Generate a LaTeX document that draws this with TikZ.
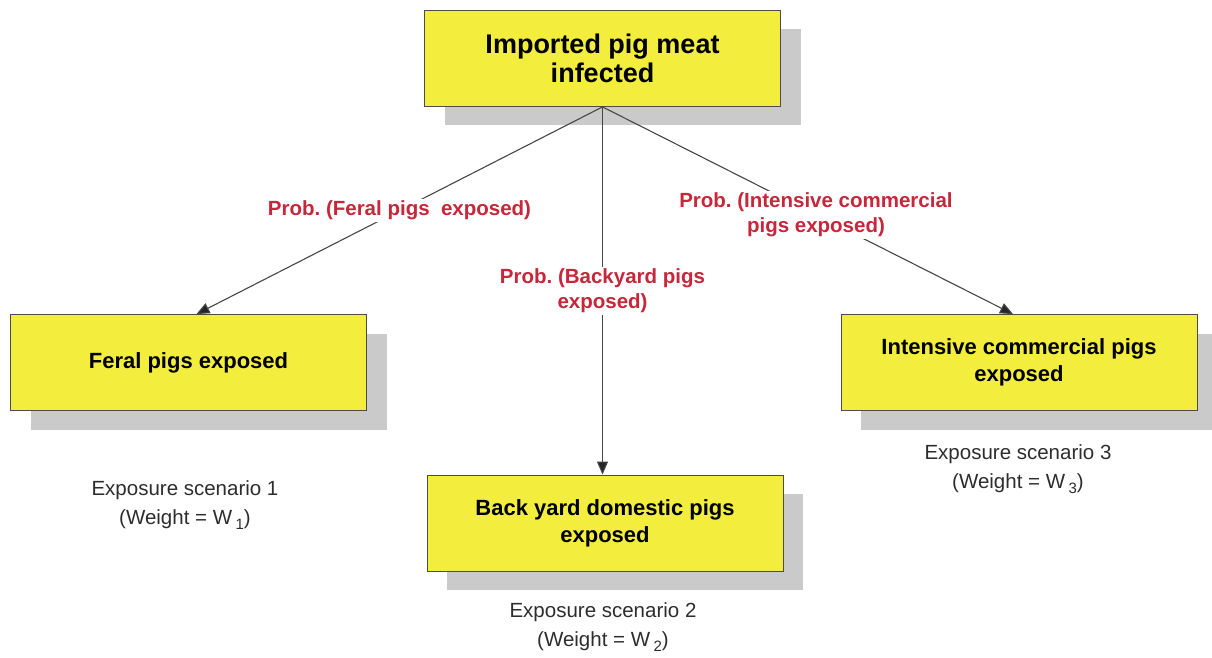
\documentclass[tikz,border=0pt]{standalone}
\usepackage{fontspec}
\setmainfont{Liberation Sans}
\usetikzlibrary{shadows,arrows.meta}
\definecolor{boxyellow}{RGB}{243,238,62}
\definecolor{probred}{RGB}{200,38,58}
\definecolor{shadowgray}{RGB}{202,202,202}
\definecolor{linegray}{RGB}{70,70,70}
\definecolor{textgray}{RGB}{45,45,45}
% lowered weight index
\newcommand{\wsub}[1]{\,\raisebox{-0.45ex}{\fontsize{15}{15}\selectfont #1}}
\begin{document}
\begin{tikzpicture}[x=1pt,y=-1pt,
  stagebox/.style={draw=black!70, line width=0.8pt, fill=boxyellow,
    minimum width=356pt, minimum height=96pt, inner sep=0pt, align=center,
    font=\bfseries\fontsize{22}{27}\selectfont,
    drop shadow={shadow xshift=20pt, shadow yshift=-19pt, fill=shadowgray, opacity=1}},
  problabel/.style={fill=white, text=probred, align=center, inner sep=2pt,
    font=\bfseries\fontsize{20.5}{25}\selectfont},
  scenario/.style={text=textgray, align=center, font=\fontsize{20.5}{29}\selectfont},
  branch/.style={draw=linegray, line width=1.1pt,
    -{Triangle[length=13pt,width=11pt,fill=black!85]}}
]
\useasboundingbox (0,0) rectangle (1212,658);

% event boxes
\node[stagebox, font=\bfseries\fontsize{27}{29}\selectfont] (meat) at (602.5,58.5)
  {Imported pig meat\\infected};
\node[stagebox] (feral) at (188.5,362.5) {Feral pigs exposed};
\node[stagebox] (intensive) at (1019,362.5) {Intensive commercial pigs\\exposed};
\node[stagebox] (backyard) at (605,523) {Back yard domestic pigs\\exposed};

% branches with their probabilities
\draw[branch] (meat.south) --
  node[problabel, pos=0.5] {Prob.\ (Feral pigs\ \ exposed)}
  ([xshift=8pt]feral.north);
\draw[branch] (meat.south) --
  node[problabel, pos=0.5] {Prob.\ (Backyard pigs\\exposed)}
  (meat.south |- backyard.north);
\draw[branch] (meat.south) --
  node[problabel, pos=0.52] {Prob.\ (Intensive commercial\\pigs exposed)}
  ([xshift=-6pt]intensive.north);

% scenario captions
\node[scenario] (s1) at (185,505) {Exposure scenario 1\\(Weight = W\wsub{1})};
\node[scenario] (s2) at (603,627) {Exposure scenario 2\\(Weight = W\wsub{2})};
\node[scenario] (s3) at (1018,469) {Exposure scenario 3\\(Weight = W\wsub{3})};
\end{tikzpicture}
\end{document}
